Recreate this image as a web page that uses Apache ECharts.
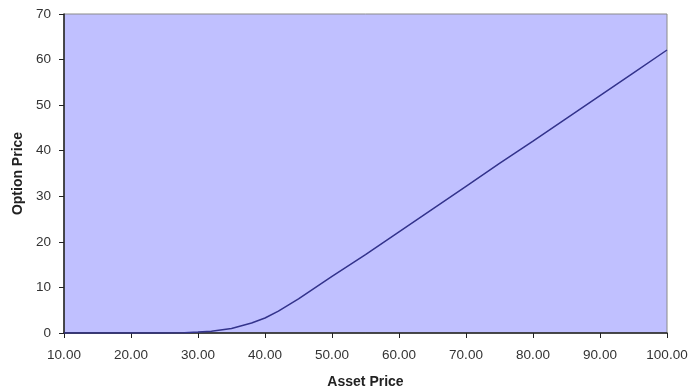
<!DOCTYPE html>
<html>
<head>
<meta charset="utf-8">
<style>
  html, body { margin: 0; padding: 0; background: #ffffff; }
  #chart { width: 689px; height: 389px; }
</style>
<script src="https://cdn.jsdelivr.net/npm/echarts@6/dist/echarts.min.js"></script>
</head>
<body>
<div id="chart"></div>
<script>
// Asset price (x) and the corresponding option price (y)
const assetPrices = [10, 15, 20, 25, 28, 30, 32, 35, 38, 40, 42, 45, 50, 55, 60, 65, 70, 75, 80, 85, 90, 95, 100];
const optionPrices = [0, 0, 0, 0, 0.05, 0.2, 0.4, 1.0, 2.2, 3.3, 4.8, 7.5, 12.4, 17.2, 22.2, 27.2, 32.2, 37.2, 42.1, 47.1, 52.1, 57.1, 62.1];

const xTicks = { min: 10, max: 100, step: 10 };
const yTicks = { min: 0, max: 70, step: 10 };

const points = assetPrices.map((p, i) => [p, optionPrices[i]]);

const chart = echarts.init(document.getElementById('chart'));
const fontFamily = 'Liberation Sans, Arial, sans-serif';
const labelFont = { fontFamily: fontFamily, fontSize: 13.5, color: '#333' };
const titleFont = { fontFamily: fontFamily, fontSize: 14, fontWeight: 'bold', color: '#222' };

chart.setOption({
  animation: false,
  grid: {
    left: 64, right: 22, top: 14, bottom: 56,
    containLabel: false,
    outerBoundsMode: 'none',
    show: true,
    backgroundColor: '#C0C0FF',
    borderColor: '#8a8a8a',
    borderWidth: 1
  },
  xAxis: {
    type: 'value',
    min: xTicks.min, max: xTicks.max, interval: xTicks.step,
    name: 'Asset Price',
    nameLocation: 'middle',
    nameGap: 42,
    nameTextStyle: titleFont,
    axisLine: { show: true, lineStyle: { color: '#222', width: 1.5 } },
    axisTick: { show: true, inside: false, length: 5, lineStyle: { color: '#222' } },
    axisLabel: Object.assign({ margin: 15, formatter: v => v.toFixed(2) }, labelFont),
    splitLine: { show: false }
  },
  yAxis: {
    type: 'value',
    min: yTicks.min, max: yTicks.max, interval: yTicks.step,
    name: 'Option Price',
    nameLocation: 'middle',
    nameGap: 39,
    nameRotate: 90,
    nameTextStyle: titleFont,
    axisLine: { show: true, lineStyle: { color: '#222', width: 1.5 } },
    axisTick: { show: true, inside: false, length: 5, lineStyle: { color: '#222' } },
    axisLabel: Object.assign({ margin: 13 }, labelFont),
    splitLine: { show: false }
  },
  series: [{
    type: 'line',
    data: points,
    showSymbol: false,
    smooth: false,
    lineStyle: { color: '#33338C', width: 1.5 }
  }]
});
</script>
</body>
</html>
